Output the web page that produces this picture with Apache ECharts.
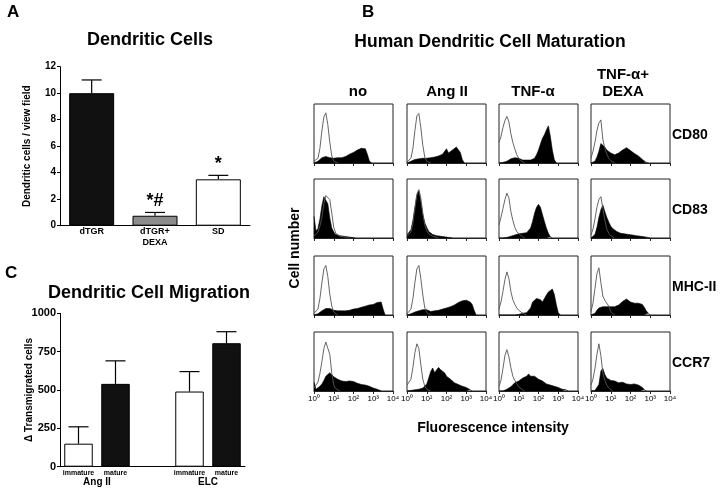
<!DOCTYPE html>
<html><head><meta charset="utf-8">
<script src="https://cdn.jsdelivr.net/npm/echarts@6/dist/echarts.min.js"></script>
<style>html,body{margin:0;padding:0;background:#fff}#c{width:720px;height:498px}</style>
</head><body><div id="c"></div>
<script>
// ---------- Panel A data ----------
const catA = ['dTGR', 'dTGR+\nDEXA', 'SD'];
const valA = [10, 0.75, 3.5];
const errA = [11, 1.0, 3.8];
const markA = ['', '*#', '*'];

// ---------- Panel C data ----------
const catC = ['immature', 'mature', '', 'immature', 'mature'];
const valC = [150, 540, null, 490, 805];
const errC = [260, 690, null, 620, 880];
const groupC = ['Ang II', 'ELC'];

// ---------- Panel B labels ----------
const colsB = ['no', 'Ang II', 'TNF-α', 'TNF-α+\nDEXA'];
const rowsB = ['CD80', 'CD83', 'MHC-II', 'CCR7'];
const decadeLabels = ['10⁰', '10¹', '10²', '10³', '10⁴'];
// histogram bin positions (log10 of fluorescence)
const bins = [0,0.1,0.2,0.3,0.4,0.5,0.6,0.7,0.8,0.9,1.0,1.1,1.2,1.3,1.4,1.5,1.6,1.7,1.8,1.9,2.0,2.1,2.2,2.3,2.4,2.5,2.6,2.7,2.8,2.9,3.0,3.1,3.2,3.3,3.4,3.5,3.6,3.7,3.8,3.9,4.0];

// cell counts (% of panel height): control (open) and stained (filled)
const cd80_no_ctrl = [3,4,8,25,55,78,85,65,35,12,3,1,0];
const cd80_no_stain = [0,1,3,6,9,10,11,10,9,8,8,8,9,8,9,10,11,13,15,17,18,20,22,23,25,27,24,15,4,0];
const cd80_ang_ctrl = [2,3,8,25,55,80,84,60,30,10,3,1,0];
const cd80_ang_stain = [0,1,3,5,6,6,7,7,8,8,8,8,9,9,10,11,12,13,15,18,24,17,19,22,24,27,25,18,6,0];
const cd80_tnf_ctrl = [35,45,60,72,79,70,50,35,24,14,8,4,2,0];
const cd80_tnf_stain = [0,0,1,2,3,5,7,8,9,10,8,6,5,5,5,5,5,6,8,14,22,32,42,48,56,63,45,22,6,0];
const cd80_dex_ctrl = [8,20,35,55,68,73,40,25,15,8,4,2,0];
const cd80_dex_stain = [0,1,3,10,20,33,36,27,22,19,17,16,14,15,17,20,22,25,26,24,21,18,16,14,12,10,6,3,1,0];

const cd83_no_ctrl = [3,5,10,20,35,58,72,74,65,42,18,8,5,3,2,2,1,1,0];
const cd83_no_stain = [37,12,16,32,55,70,71,58,34,17,10,6,5,4,3,3,2,2,1,1,1,0];
const cd83_ang_ctrl = [3,5,10,25,50,75,82,68,42,22,12,7,5,3,2,1,0];
const cd83_ang_stain = [5,8,14,30,52,72,80,62,40,26,18,11,8,6,5,4,3,3,2,2,2,1,1,0];
const cd83_tnf_ctrl = [22,35,50,65,76,68,45,30,18,11,7,4,2,0];
const cd83_tnf_stain = [0,0,0,1,1,2,3,4,5,6,7,8,8,8,9,11,17,28,42,52,57,52,40,28,17,8,2,0];
const cd83_dex_ctrl = [5,15,32,52,65,70,50,30,15,8,4,2,0];
const cd83_dex_stain = [0,2,6,18,35,48,56,45,35,27,20,16,13,11,9,8,7,7,6,6,5,5,5,4,4,3,3,2,2,1,0];

const mhc_no_ctrl = [3,5,10,28,55,78,84,65,35,15,5,2,0];
const mhc_no_stain = [0,0,2,4,7,9,11,12,11,10,8,7,7,7,7,7,7,8,8,9,10,11,11,12,13,14,15,16,17,17,18,19,21,24,22,10,0];
const mhc_ang_ctrl = [2,4,10,28,55,78,84,62,34,12,4,1,0];
const mhc_ang_stain = [0,1,2,3,5,6,7,8,9,10,9,7,6,6,7,7,8,9,10,11,12,13,14,16,17,19,21,23,24,25,25,24,22,18,8,0];
const mhc_tnf_ctrl = [10,22,40,60,73,62,40,26,18,12,8,5,3,1,0];
const mhc_tnf_stain = [0,0,0,0,0,0,0,0,0,0,1,2,3,4,4,6,12,22,25,28,31,26,22,28,34,39,42,44,35,18,4,0];
const mhc_dex_ctrl = [6,20,45,70,80,55,32,25,22,15,6,2,0];
const mhc_dex_stain = [0,1,3,8,12,14,14,14,14,14,14,14,14,15,17,20,23,25,27,25,22,21,20,20,20,20,18,13,7,3,0];

const ccr7_no_ctrl = [5,8,15,30,50,72,83,80,62,30,10,4,1,0];
const ccr7_no_stain = [15,3,5,8,12,18,25,28,31,28,24,22,20,18,17,16,16,17,17,16,16,14,13,12,11,11,10,9,8,7,5,4,3,2,0];
const ccr7_ang_ctrl = [10,12,20,40,65,80,72,45,20,8,3,1,0];
const ccr7_ang_stain = [0,0,1,1,2,3,3,4,5,7,12,22,33,39,31,36,40,36,38,31,25,22,20,17,14,12,11,10,8,7,6,4,2,0];
const ccr7_tnf_ctrl = [8,18,38,60,70,58,40,25,18,12,7,4,2,0];
const ccr7_tnf_stain = [0,0,0,1,3,5,7,10,14,16,17,19,22,24,25,29,25,26,25,22,20,18,17,14,12,11,10,9,8,7,6,4,3,2,2,0];
const ccr7_dex_ctrl = [10,20,38,62,80,60,30,18,10,5,2,0];
const ccr7_dex_stain = [0,0,1,3,11,34,38,28,22,20,18,17,17,16,14,15,15,13,12,12,11,12,12,11,10,8,6,2,0];

const histo = [
  [[cd80_no_ctrl, cd80_no_stain], [cd80_ang_ctrl, cd80_ang_stain], [cd80_tnf_ctrl, cd80_tnf_stain], [cd80_dex_ctrl, cd80_dex_stain]],
  [[cd83_no_ctrl, cd83_no_stain], [cd83_ang_ctrl, cd83_ang_stain], [cd83_tnf_ctrl, cd83_tnf_stain], [cd83_dex_ctrl, cd83_dex_stain]],
  [[mhc_no_ctrl, mhc_no_stain], [mhc_ang_ctrl, mhc_ang_stain], [mhc_tnf_ctrl, mhc_tnf_stain], [mhc_dex_ctrl, mhc_dex_stain]],
  [[ccr7_no_ctrl, ccr7_no_stain], [ccr7_ang_ctrl, ccr7_ang_stain], [ccr7_tnf_ctrl, ccr7_tnf_stain], [ccr7_dex_ctrl, ccr7_dex_stain]]
];

// ---------- layout & style ----------
const F = "'Liberation Sans', Arial, Helvetica, sans-serif";
const colL = [314, 407, 499, 591];
const rowT = [104, 179, 256, 332];
const boxW = 79, boxH = 59;
const colsBX = [358, 447, 533, 623];
const barColA = ['#111', '#8c8c8c', '#fff'];
const barColC = ['#fff', '#111', '#fff', '#fff', '#111'];

const chart = echarts.init(document.getElementById('c'), null, {renderer: 'canvas', width: 720, height: 498});

function errRender(marks) {
  return function (params, api) {
    const x = api.value(0), top = api.value(1), base = api.value(2);
    const p1 = api.coord([x, base]);
    const p2 = api.coord([x, top]);
    const hw = 10;
    const ch = [
      {type: 'line', shape: {x1: p1[0], y1: p1[1], x2: p2[0], y2: p2[1]}, style: {stroke: '#000', lineWidth: 1.2}},
      {type: 'line', shape: {x1: p2[0] - hw, y1: p2[1], x2: p2[0] + hw, y2: p2[1]}, style: {stroke: '#000', lineWidth: 1.2}}
    ];
    if (marks && marks[x]) {
      ch.push({type: 'text', x: p2[0], y: p2[1] - 2, style: {text: marks[x], font: 'bold 18px ' + F, textAlign: 'center', textVerticalAlign: 'bottom', fill: '#000'}});
    }
    return {type: 'group', children: ch};
  };
}

const grids = [
  {left: 60, top: 66.7, width: 190, height: 159},
  {left: 60, top: 313.3, width: 185, height: 153.4}
];
const xAxes = [
  {type: 'category', gridIndex: 0, data: catA, axisTick: {show: false},
   axisLine: {lineStyle: {color: '#000', width: 1}},
   axisLabel: {color: '#000', fontFamily: F, fontWeight: 'bold', fontSize: 9, margin: 1, lineHeight: 10.5}},
  {type: 'category', gridIndex: 1, data: catC, axisTick: {show: false},
   axisLine: {lineStyle: {color: '#000', width: 1}},
   axisLabel: {color: '#000', fontFamily: F, fontWeight: 'bold', fontSize: 7, margin: 3, interval: 0}},
  {type: 'value', gridIndex: 1, min: 0, max: 5, position: 'bottom', axisLine: {show: false}, axisTick: {show: false}, splitLine: {show: false},
   axisLabel: {customValues: [1, 4], formatter: v => groupC[v === 1 ? 0 : 1], color: '#000', fontFamily: F, fontWeight: 'bold', fontSize: 10, margin: 11}}
];
const yAxes = [
  {type: 'value', gridIndex: 0, min: 0, max: 12, interval: 2, splitLine: {show: false},
   axisLine: {show: true, lineStyle: {color: '#000'}}, axisTick: {show: true, length: 3, lineStyle: {color: '#000'}},
   axisLabel: {color: '#000', fontFamily: F, fontWeight: 'bold', fontSize: 10, margin: 4, formatter: v => String(v)},
   name: 'Dendritic cells / view field', nameLocation: 'middle', nameGap: 28, nameMoveOverlap: false,
   nameTextStyle: {color: '#000', fontFamily: F, fontWeight: 'bold', fontSize: 10}},
  {type: 'value', gridIndex: 1, min: 0, max: 1000, interval: 250, splitLine: {show: false},
   axisLine: {show: true, lineStyle: {color: '#000'}}, axisTick: {show: true, length: 3, lineStyle: {color: '#000'}},
   axisLabel: {color: '#000', fontFamily: F, fontWeight: 'bold', fontSize: 11, margin: 4, formatter: v => String(v)},
   name: 'Δ Transmigrated cells', nameLocation: 'middle', nameGap: 26, nameMoveOverlap: false,
   nameTextStyle: {color: '#000', fontFamily: F, fontWeight: 'bold', fontSize: 10}}
];
const series = [
  {type: 'bar', xAxisIndex: 0, yAxisIndex: 0, barWidth: 45, animation: false,
   data: valA.map((v, i) => ({value: v, itemStyle: {color: barColA[i], borderColor: '#000', borderWidth: 1}}))},
  {type: 'custom', xAxisIndex: 0, yAxisIndex: 0, animation: false, renderItem: errRender(markA),
   data: valA.map((v, i) => [i, errA[i], v])},
  {type: 'bar', xAxisIndex: 1, yAxisIndex: 1, barWidth: 28.5, animation: false,
   data: valC.map((v, i) => ({value: v, itemStyle: {color: barColC[i], borderColor: '#000', borderWidth: 1}}))},
  {type: 'custom', xAxisIndex: 1, yAxisIndex: 1, animation: false, renderItem: errRender(null),
   data: valC.map((v, i) => [i, errC[i], v]).filter(d => d[2] !== null)}
];

for (let r = 0; r < 4; r++) {
  for (let c = 0; c < 4; c++) {
    const gi = grids.length;
    grids.push({left: colL[c], top: rowT[r], width: boxW, height: boxH, show: true, borderColor: '#222', borderWidth: 1, backgroundColor: 'transparent'});
    const xi = xAxes.length, yi = yAxes.length;
    xAxes.push({type: 'value', gridIndex: gi, min: 0, max: 4, interval: 1, splitLine: {show: false},
      axisLine: {show: true, lineStyle: {color: '#222', width: 1}},
      axisTick: {show: true, length: 3, lineStyle: {color: '#222'}},
      axisLabel: {show: r === 3, showMinLabel: true, showMaxLabel: true, formatter: v => decadeLabels[Math.round(v)],
        color: '#000', fontFamily: F, fontSize: 8, margin: 4}});
    yAxes.push({type: 'value', gridIndex: gi, min: 0, max: 100, show: false});
    const [ctrl, stain] = histo[r][c];
    series.push({type: 'line', xAxisIndex: xi, yAxisIndex: yi, symbol: 'none', animation: false, silent: true,
      lineStyle: {width: 0.6, color: '#000'}, areaStyle: {color: '#000', opacity: 1},
      data: stain.map((v, i) => [bins[i], v])});
    series.push({type: 'line', xAxisIndex: xi, yAxisIndex: yi, symbol: 'none', animation: false, silent: true,
      lineStyle: {width: 0.9, color: '#555'},
      data: ctrl.map((v, i) => [bins[i], v])});
  }
}

function txt(t, x, y, size, align, vAlign, extra) {
  return Object.assign({type: 'text', x: x, y: y, silent: true,
    style: {text: t, font: 'bold ' + size + 'px ' + F, fill: '#000', textAlign: align || 'center', textVerticalAlign: vAlign || 'middle', lineHeight: 17}}, extra || {});
}
const graphics = [
  txt('A', 7, 12, 17, 'left'),
  txt('B', 362, 12, 17, 'left'),
  txt('C', 5, 273, 17, 'left'),
  txt('Dendritic Cells', 150, 40, 18),
  txt('Human Dendritic Cell Maturation', 490, 42, 17.5),
  txt('Dendritic Cell Migration', 149, 293, 18),
  txt('Fluorescence intensity', 493, 428, 14),
  txt('Cell number', 295, 248, 14, 'center', 'middle', {rotation: Math.PI / 2})
];
colsB.forEach((t, i) => graphics.push(txt(t, colsBX[i], 100, 15, 'center', 'bottom')));
rowsB.forEach((t, i) => graphics.push(txt(t, 672, rowT[i] + boxH / 2 + 1.5, 14, 'left')));

chart.setOption({
  backgroundColor: '#fff',
  animation: false,
  grid: grids,
  xAxis: xAxes,
  yAxis: yAxes,
  series: series,
  graphic: graphics
});
</script></body></html>
